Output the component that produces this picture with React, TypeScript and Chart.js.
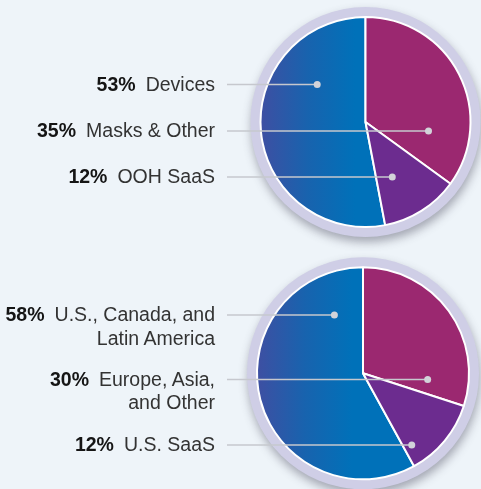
import React, { useEffect, useRef } from "react";
import { Chart, registerables } from "chart.js";

Chart.register(...registerables);

// ---- data ----
const topCategories = ["Devices", "Masks & Other", "OOH SaaS"];
const topLabelLines = [["Devices"], ["Masks & Other"], ["OOH SaaS"]];
const topValues = [53, 35, 12];

const bottomCategories = ["U.S., Canada, and Latin America", "Europe, Asia, and Other", "U.S. SaaS"];
const bottomLabelLines = [["U.S., Canada, and", "Latin America"], ["Europe, Asia,", "and Other"], ["U.S. SaaS"]];
const bottomValues = [58, 30, 12];

// ---- styles / layout ----
const W = 481;
const H = 489;
const BG = "#eef4f9";
const RING = "#cfcee6";
const SLICE_COLORS = ["#0071b9", "#9b2870", "#6c2c8f"];
const LINE_COLOR = "#c6c8ce";
const DOT_COLOR = "#d2d3d9";
const LABEL_RIGHT = 215;
const LINE_START_X = 227;
const LINE_HEIGHT = 23.5;

const TOP_LAYOUT = { cx: 365.5, cy: 122, r: 105, labelDy: [-37.5, 9, 55], dotFx: [-0.46, 0.6, 0.255] };
const BOTTOM_LAYOUT = { cx: 363, cy: 373.3, r: 106, labelDy: [-58.3, 6.2, 71.7], dotFx: [-0.27, 0.61, 0.46] };

type Layout = typeof TOP_LAYOUT;

const ringPlugin = {
  id: "ringLeaders",
  beforeDatasetsDraw(chart: any) {
    const arc = chart.getDatasetMeta(0).data[0];
    if (!arc) return;
    const ctx = chart.ctx;
    ctx.save();
    ctx.shadowColor = "rgba(70,70,90,0.45)";
    ctx.shadowBlur = 10;
    ctx.shadowOffsetY = 5;
    ctx.shadowOffsetX = 1;
    ctx.beginPath();
    ctx.arc(arc.x, arc.y, arc.outerRadius + 10, 0, Math.PI * 2);
    ctx.fillStyle = RING;
    ctx.fill();
    ctx.restore();
  },
  afterDatasetsDraw(chart: any, _args: any, opts: any) {
    const arc = chart.getDatasetMeta(0).data[0];
    if (!arc) return;
    const ctx = chart.ctx;
    const layout: Layout = opts.layout;
    ctx.save();
    layout.labelDy.forEach((dy: number, i: number) => {
      const y = arc.y + dy;
      const x = arc.x + layout.dotFx[i] * arc.outerRadius;
      ctx.beginPath();
      ctx.moveTo(LINE_START_X, y);
      ctx.lineTo(x, y);
      ctx.strokeStyle = LINE_COLOR;
      ctx.lineWidth = 1.5;
      ctx.stroke();
      ctx.beginPath();
      ctx.arc(x, y, 3.5, 0, Math.PI * 2);
      ctx.fillStyle = DOT_COLOR;
      ctx.fill();
    });
    ctx.restore();
  },
};

function PieCanvas({ categories, values, layout }: { categories: string[]; values: number[]; layout: Layout }) {
  const ref = useRef<HTMLCanvasElement>(null);
  useEffect(() => {
    if (!ref.current) return;
    const dx = 2 * layout.cx - W;
    const dy = 2 * layout.cy - H;
    const total = values.reduce((a, b) => a + b, 0);
    const chart = new Chart(ref.current, {
      type: "pie",
      data: {
        labels: categories,
        datasets: [
          {
            data: values,
            backgroundColor: (c: any) => {
              if (c.dataIndex === 0) {
                const g = c.chart.ctx.createLinearGradient(layout.cx - layout.r, 0, layout.cx - layout.r * 0.1, 0);
                g.addColorStop(0, "#3e4fa2");
                g.addColorStop(0.5, "#1863ae");
                g.addColorStop(1, "#0071b9");
                return g;
              }
              return SLICE_COLORS[c.dataIndex];
            },
            borderColor: "#ffffff",
            borderWidth: 2,
            hoverOffset: 0,
          },
        ],
      },
      options: {
        responsive: false,
        animation: false,
        devicePixelRatio: 1,
        radius: layout.r,
        rotation: -(values[0] / total) * 360,
        events: [],
        layout: {
          padding: {
            left: Math.max(dx, 0),
            right: Math.max(-dx, 0),
            top: Math.max(dy, 0),
            bottom: Math.max(-dy, 0),
          },
        },
        plugins: {
          legend: { display: false },
          tooltip: { enabled: false },
          title: { display: false },
          ringLeaders: { layout },
        } as any,
      } as any,
      plugins: [ringPlugin],
    });
    return () => chart.destroy();
  }, []);
  return (
    <canvas
      ref={ref}
      width={W}
      height={H}
      style={{ position: "absolute", left: 0, top: 0, width: W, height: H }}
    />
  );
}

function Labels({ lines, values, layout }: { lines: string[][]; values: number[]; layout: Layout }) {
  return (
    <>
      {lines.map((ls, i) => (
        <div
          key={i}
          style={{
            position: "absolute",
            right: W - LABEL_RIGHT,
            top: layout.cy + layout.labelDy[i] - 11.9,
            textAlign: "right",
            whiteSpace: "nowrap",
            fontFamily: "'Liberation Sans', Arial, sans-serif",
            fontSize: 19.5,
            lineHeight: `${LINE_HEIGHT}px`,
            color: "#333333",
          }}
        >
          {ls.map((t, j) => (
            <div key={j}>
              {j === 0 && (
                <span style={{ fontWeight: 700, color: "#151515", marginRight: 10 }}>{values[i]}%</span>
              )}
              {t}
            </div>
          ))}
        </div>
      ))}
    </>
  );
}

export default function App() {
  return (
    <div
      style={{
        position: "fixed",
        left: 0,
        top: 0,
        width: W,
        height: H,
        overflow: "hidden",
        background: BG,
      }}
    >
      <PieCanvas categories={topCategories} values={topValues} layout={TOP_LAYOUT} />
      <PieCanvas categories={bottomCategories} values={bottomValues} layout={BOTTOM_LAYOUT} />
      <Labels lines={topLabelLines} values={topValues} layout={TOP_LAYOUT} />
      <Labels lines={bottomLabelLines} values={bottomValues} layout={BOTTOM_LAYOUT} />
    </div>
  );
}
